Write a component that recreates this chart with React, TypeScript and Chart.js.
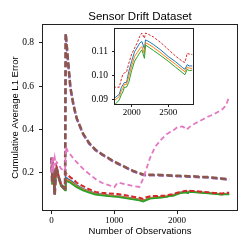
import React, { useEffect, useRef } from "react";
import { Chart, registerables } from "chart.js";
Chart.register(...registerables);

// Observation index (x)
const X = [0, 8, 15, 30, 50, 65, 80, 110, 150, 200,
  215, 225, 260, 300, 350, 400, 500, 600, 700, 800,
  900, 1000, 1050, 1100, 1200, 1300, 1400, 1460, 1500, 1570,
  1650, 1750, 1830, 1860, 1880, 1900, 1930, 1960, 2000, 2040,
  2080, 2110, 2140, 2175, 2190, 2240, 2300, 2400, 2500, 2600,
  2700, 2730, 2760, 2790, 2830];

const BLUE = [0.27, 0.16, 0.26, 0.2, 0.1, 0.2, 0.225, 0.185, 0.145, 0.13,
  0.125, 0.18, 0.172, 0.165, 0.155, 0.143, 0.127, 0.116, 0.106, 0.102,
  0.098, 0.095, 0.094, 0.092, 0.087, 0.083, 0.078, 0.073, 0.078, 0.086,
  0.088, 0.09, 0.092, 0.095, 0.096, 0.097, 0.097, 0.1015, 0.106, 0.11,
  0.112, 0.1136, 0.1143, 0.1112, 0.115, 0.1142, 0.113, 0.1107, 0.108, 0.1058,
  0.1032, 0.1026, 0.1045, 0.104, 0.104];

const ORANGE = [0.27, 0.155, 0.255, 0.2, 0.1, 0.195, 0.222, 0.182, 0.142, 0.128,
  0.122, 0.172, 0.166, 0.16, 0.15, 0.139, 0.124, 0.113, 0.103, 0.099,
  0.096, 0.093, 0.092, 0.09, 0.085, 0.081, 0.076, 0.071, 0.076, 0.084,
  0.086, 0.089, 0.091, 0.0935, 0.0945, 0.0962, 0.0962, 0.0995, 0.104, 0.108,
  0.1098, 0.1112, 0.1122, 0.1092, 0.1138, 0.113, 0.1118, 0.1095, 0.107, 0.1047,
  0.1022, 0.1015, 0.1035, 0.103, 0.103];

const GREEN = [0.27, 0.15, 0.25, 0.2, 0.1, 0.19, 0.22, 0.18, 0.14, 0.125,
  0.12, 0.165, 0.16, 0.155, 0.145, 0.135, 0.12, 0.11, 0.1, 0.097,
  0.094, 0.091, 0.09, 0.088, 0.083, 0.079, 0.074, 0.069, 0.074, 0.082,
  0.084, 0.087, 0.0896, 0.092, 0.093, 0.095, 0.095, 0.097, 0.102, 0.106,
  0.108, 0.1095, 0.1108, 0.1072, 0.1128, 0.1118, 0.1105, 0.1083, 0.106, 0.1035,
  0.101, 0.1003, 0.1025, 0.102, 0.1022];

const RED = [0.27, 0.16, 0.26, 0.2, 0.1, 0.2, 0.225, 0.19, 0.15, 0.135,
  0.13, 0.2, 0.19, 0.18, 0.17, 0.155, 0.14, 0.125, 0.113, 0.109,
  0.106, 0.104, 0.103, 0.101, 0.096, 0.091, 0.086, 0.081, 0.087, 0.093,
  0.094, 0.095, 0.095, 0.0985, 0.1005, 0.101, 0.1014, 0.105, 0.109, 0.1115,
  0.114, 0.1165, 0.1179, 0.1157, 0.1179, 0.1172, 0.1162, 0.1138, 0.111, 0.1082,
  0.1058, 0.1055, 0.1093, 0.109, 0.1088];

const PURPLE = [0.27, 0.16, 0.26, 0.2, 0.1, 0.2, 0.225, 0.185, 0.145, 0.13,
  0.13, 0.84, 0.72, 0.59, 0.51, 0.45, 0.38, 0.335, 0.305, 0.285,
  0.268, 0.25, 0.243, 0.236, 0.222, 0.208, 0.197, 0.191, 0.19, 0.19,
  0.19, 0.189, 0.188, 0.188, 0.187, 0.187, 0.186, 0.186, 0.185, 0.185,
  0.184, 0.184, 0.184, 0.183, 0.183, 0.183, 0.182, 0.18, 0.179, 0.176,
  0.173, 0.172, 0.171, 0.17, 0.168];

const BROWN = [0.27, 0.16, 0.26, 0.2, 0.1, 0.2, 0.225, 0.185, 0.145, 0.13,
  0.13, 0.843, 0.722, 0.592, 0.512, 0.452, 0.382, 0.337, 0.307, 0.287,
  0.27, 0.252, 0.245, 0.238, 0.224, 0.21, 0.199, 0.193, 0.192, 0.192,
  0.192, 0.191, 0.19, 0.19, 0.189, 0.189, 0.188, 0.188, 0.187, 0.187,
  0.186, 0.186, 0.186, 0.185, 0.185, 0.185, 0.184, 0.182, 0.181, 0.178,
  0.175, 0.174, 0.173, 0.172, 0.17];

const PINK = [0.26, 0.2, 0.28, 0.23, 0.27, 0.24, 0.25, 0.24, 0.22, 0.21,
  0.21, 0.32, 0.3, 0.285, 0.265, 0.25, 0.22, 0.195, 0.172, 0.155,
  0.145, 0.135, 0.155, 0.153, 0.147, 0.14, 0.136, 0.175, 0.21, 0.27,
  0.32, 0.355, 0.378, 0.383, 0.387, 0.39, 0.395, 0.4, 0.41, 0.412,
  0.414, 0.41, 0.4, 0.405, 0.41, 0.42, 0.43, 0.445, 0.46, 0.472,
  0.49, 0.495, 0.505, 0.52, 0.55];

const MAIN_Y_TICKS = [0.2, 0.4, 0.6, 0.8];
const MAIN_X_TICKS = [0, 1000, 2000];
const INSET_Y_TICKS = [0.09, 0.1, 0.11];
const INSET_X_TICKS = [2000, 2500];

const TITLE = "Sensor Drift Dataset";
const X_LABEL = "Number of Observations";
const Y_LABEL = "Cumulative Average L1 Error";

const SERIF = "'Liberation Serif', 'DejaVu Serif', serif";
const SANS = "'Liberation Sans', 'DejaVu Sans', sans-serif";
const AXIS_COLOR = "#222";

const pts = (ys: number[]) => X.map((x, i) => ({ x, y: ys[i] }));

const framePlugin = {
  id: "frame",
  afterDatasetsDraw(chart: any) {
    const { ctx, chartArea: a } = chart;
    ctx.save();
    ctx.strokeStyle = AXIS_COLOR;
    ctx.lineWidth = 1;
    ctx.strokeRect(a.left - 0.5, a.top - 0.5, a.right - a.left + 1, a.bottom - a.top + 1);
    ctx.restore();
  },
};

const whiteBgPlugin = {
  id: "whitebg",
  beforeDraw(chart: any) {
    const { ctx, chartArea: a } = chart;
    ctx.save();
    ctx.fillStyle = "#fff";
    ctx.fillRect(a.left - 1, a.top - 1, a.right - a.left + 2, a.bottom - a.top + 2);
    ctx.restore();
  },
};

const titlePlugin = {
  id: "plotTitle",
  afterDraw(chart: any) {
    const { ctx, chartArea: a } = chart;
    ctx.save();
    ctx.fillStyle = "#000";
    ctx.font = `11.5px ${SANS}`;
    ctx.textAlign = "center";
    ctx.textBaseline = "middle";
    ctx.fillText(TITLE, (a.left + a.right) / 2, 16.5);
    ctx.restore();
  },
};

function lineDs(label: string, ys: number[], color: string, width: number, dash: number[], order: number) {
  return {
    label,
    data: pts(ys),
    borderColor: color,
    backgroundColor: color,
    borderWidth: width,
    borderDash: dash,
    borderCapStyle: "butt" as const,
    pointRadius: 0,
    fill: false,
    tension: 0,
    order,
  };
}

export default function App() {
  const mainRef = useRef<HTMLCanvasElement>(null);
  const insetRef = useRef<HTMLCanvasElement>(null);

  useEffect(() => {
    const main = new Chart(mainRef.current!, {
      type: "line",
      data: {
        datasets: [
          lineDs("blue", BLUE, "#1f77b4", 1.8, [], 6),
          lineDs("orange", ORANGE, "#ff7f0e", 1.8, [], 5),
          lineDs("green", GREEN, "#2ca02c", 1.8, [], 4),
          lineDs("red", RED, "#d62728", 2, [5, 2.5], 3),
          lineDs("purple", PURPLE, "#9467bd", 2.5, [6, 3], 2),
          lineDs("brown", BROWN, "#8c564b", 2.5, [6, 3], 1),
          lineDs("pink", PINK, "#e377c2", 1.8, [5, 3], 0),
        ],
      },
      options: {
        responsive: false,
        devicePixelRatio: 1,
        animation: false,
        events: [],
        layout: { padding: { top: 25, right: 12, left: 0, bottom: 0 } },
        plugins: { legend: { display: false }, tooltip: { enabled: false }, title: { display: false } },
        scales: {
          x: {
            type: "linear",
            min: -137,
            max: 2955,
            afterFit: (s: any) => { s.height = 39; },
            afterBuildTicks: (s: any) => { s.ticks = MAIN_X_TICKS.map((v) => ({ value: v })); },
            ticks: {
              autoSkip: false, maxRotation: 0, padding: 1, color: "#000",
              font: { family: SERIF, size: 9 },
              callback: (v: any) => String(v),
            },
            grid: { display: true, drawOnChartArea: false, drawTicks: true, tickLength: 4, color: AXIS_COLOR },
            border: { display: false },
            title: { display: true, text: X_LABEL, color: "#000", font: { family: SANS, size: 9.5 }, padding: { top: 0, bottom: 12.3 } },
          },
          y: {
            type: "linear",
            min: 0.0297,
            max: 0.881,
            afterFit: (s: any) => { s.width = 43; },
            afterBuildTicks: (s: any) => { s.ticks = MAIN_Y_TICKS.map((v) => ({ value: v })); },
            ticks: {
              autoSkip: false, padding: 5, color: "#000",
              font: { family: SERIF, size: 9.5 },
              callback: (v: any) => Number(v).toFixed(1),
            },
            grid: { display: true, drawOnChartArea: false, drawTicks: true, tickLength: 4, color: AXIS_COLOR },
            border: { display: false },
            title: { display: true, text: Y_LABEL, color: "#000", font: { family: SANS, size: 9.5 }, padding: { top: 9.6, bottom: 0 } },
          },
        },
      },
      plugins: [framePlugin, titlePlugin],
    } as any);

    const inset = new Chart(insetRef.current!, {
      type: "line",
      data: {
        datasets: [
          lineDs("blue", BLUE, "#1f77b4", 1, [], 4),
          lineDs("orange", ORANGE, "#ff7f0e", 1, [], 3),
          lineDs("green", GREEN, "#2ca02c", 1, [], 2),
          lineDs("red", RED, "#d62728", 1, [2.5, 1.5], 1),
        ],
      },
      options: {
        responsive: false,
        devicePixelRatio: 1,
        animation: false,
        events: [],
        layout: { padding: { top: 29, right: 56, left: 85, bottom: 130 } },
        plugins: { legend: { display: false }, tooltip: { enabled: false }, title: { display: false } },
        scales: {
          x: {
            type: "linear",
            min: 1772,
            max: 2840,
            afterFit: (s: any) => { s.height = 15; },
            afterBuildTicks: (s: any) => { s.ticks = INSET_X_TICKS.map((v) => ({ value: v })); },
            ticks: {
              autoSkip: false, maxRotation: 0, padding: 0, color: "#000",
              font: { family: SERIF, size: 9 },
              callback: (v: any) => String(v),
            },
            grid: { display: true, drawOnChartArea: false, drawTicks: true, tickLength: 3, color: AXIS_COLOR },
            border: { display: false },
          },
          y: {
            type: "linear",
            min: 0.0879,
            max: 0.1196,
            afterFit: (s: any) => { s.width = 30; },
            afterBuildTicks: (s: any) => { s.ticks = INSET_Y_TICKS.map((v) => ({ value: v })); },
            ticks: {
              autoSkip: false, padding: 4, color: "#000",
              font: { family: SERIF, size: 9.5 },
              callback: (v: any) => Number(v).toFixed(2),
            },
            grid: { display: true, drawOnChartArea: false, drawTicks: true, tickLength: 3, color: AXIS_COLOR },
            border: { display: false },
          },
        },
      },
      plugins: [whiteBgPlugin, framePlugin],
    } as any);

    return () => {
      main.destroy();
      inset.destroy();
    };
  }, []);

  return (
    <div style={{ position: "fixed", left: 0, top: 0, width: 249, height: 249, background: "#fff" }}>
      <canvas ref={mainRef} width={249} height={249} style={{ position: "absolute", left: 0, top: 0 }} />
      <canvas ref={insetRef} width={249} height={249} style={{ position: "absolute", left: 0, top: 0 }} />
    </div>
  );
}
